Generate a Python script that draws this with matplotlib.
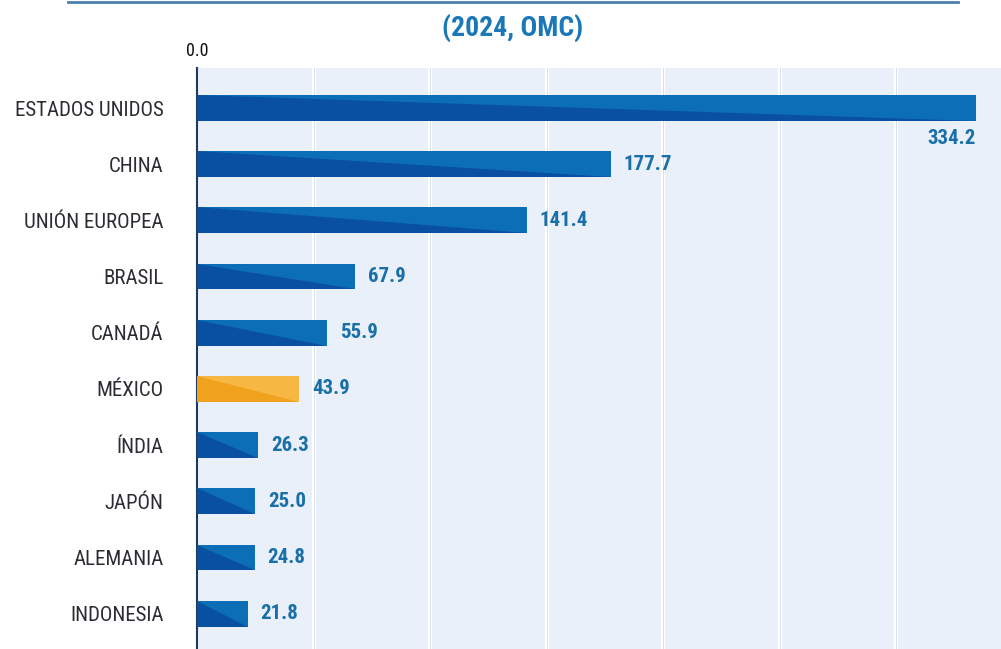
import matplotlib.pyplot as plt
from matplotlib import font_manager
from matplotlib.patches import Polygon

# data
paises = ['ESTADOS UNIDOS', 'CHINA', 'UNIÓN EUROPEA', 'BRASIL', 'CANADÁ',
          'MÉXICO', 'ÍNDIA', 'JAPÓN', 'ALEMANIA', 'INDONESIA']
valores = [334.2, 177.7, 141.4, 67.9, 55.9, 43.9, 26.3, 25.0, 24.8, 21.8]
destacado = 'MÉXICO'
titulo = '(2024, OMC)'

# pick a narrow font if one is installed
instaladas = {f.name for f in font_manager.fontManager.ttflist}
fuente = 'Roboto'
for f in ['Roboto Condensed', 'Liberation Sans Narrow', 'Open Sans Condensed',
          'DejaVu Sans Condensed']:
    if f in instaladas:
        fuente = f
        break
plt.rcParams['font.family'] = [fuente, 'DejaVu Sans']

fig = plt.figure(figsize=(10.01, 6.49), dpi=100)
ax = fig.add_axes([0.1968, 0.0, 0.8032, 0.895])
ax.set_facecolor('#e9f0fa')

alto = 0.46
pos = list(range(len(paises)))
for i, (p, v) in enumerate(zip(paises, valores)):
    if p == destacado:
        oscuro, claro = '#f0a11e', '#f7b843'
    else:
        oscuro, claro = '#0a50a0', '#0c6fb6'
    ax.barh(i, v, height=alto, color=oscuro, zorder=3)
    # upper-right triangle, lighter tone
    tri = Polygon([(0, i - alto / 2), (v, i - alto / 2), (v, i + alto / 2)],
                  closed=True, facecolor=claro, edgecolor='none', zorder=4)
    ax.add_patch(tri)
    if i == 0:
        ax.text(v, i + alto / 2 + 0.15, f'{v:.1f}', ha='right', va='top',
                color='#1a6fa8', fontsize=15, fontweight='semibold', zorder=5)
    else:
        ax.text(v + 5.5, i, f'{v:.1f}', ha='left', va='center',
                color='#1a6fa8', fontsize=15, fontweight='semibold', zorder=5)

ax.set_xlim(0, 345)
ax.set_ylim(9.63, -0.71)
ax.set_xticks([50, 100, 150, 200, 250, 300])
ax.set_xticklabels([])
ax.tick_params(axis='x', length=0)
ax.xaxis.grid(True, color='white', linewidth=3, zorder=0)
for x in [50, 100, 150, 200, 250, 300]:
    ax.axvline(x, color='#d6dee9', linewidth=0.7, zorder=1)
ax.set_axisbelow(True)

ax.set_yticks(pos)
ax.set_yticklabels(paises, fontsize=15, color='#2b2b33')
ax.tick_params(axis='y', length=0, pad=24)

for s in ['top', 'right', 'bottom']:
    ax.spines[s].set_visible(False)
ax.spines['left'].set_color('#1f3a5f')
ax.spines['left'].set_linewidth(1.5)

fig.text(0.197, 0.922, '0.0', ha='center', va='center', fontsize=13,
         color='#111111')
fig.text(0.512, 0.957, titulo, ha='center', va='center', fontsize=20,
         fontweight='bold', color='#1b78b8')
fig.add_artist(plt.Line2D([0.068, 0.957], [0.997, 0.997], color='#4a7fae',
                          linewidth=2, transform=fig.transFigure))

fig.savefig('out.png', dpi=100)
